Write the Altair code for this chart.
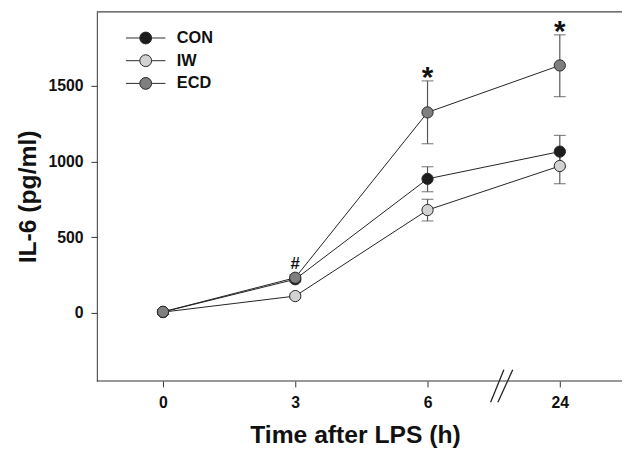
import altair as alt
import pandas as pd

groups = ["CON", "IW", "ECD"]
time_labels = ["0", "3", "6", "24"]
time_index = [0, 1, 2, 3]

con_mean = [6, 222, 885, 1065]
con_lo = [-8, 205, 800, 960]
con_hi = [20, 240, 965, 1172]
iw_mean = [5, 111, 679, 970]
iw_lo = [-8, 98, 607, 853]
iw_hi = [18, 124, 750, 1060]
ecd_mean = [7, 232, 1324, 1634]
ecd_lo = [-8, 212, 1117, 1428]
ecd_hi = [22, 252, 1532, 1836]

fills = ["#1c1c1c", "#d2d2d2", "#7f7f7f"]

hash_idx = [1]
hash_y = [252]
star_idx = [2, 3]
star_y = [1532, 1836]

rows = []
for g, m, lo, hi in [("CON", con_mean, con_lo, con_hi),
                     ("IW", iw_mean, iw_lo, iw_hi),
                     ("ECD", ecd_mean, ecd_lo, ecd_hi)]:
    for i in range(4):
        rows.append({"group": g, "t": time_index[i], "mean": m[i], "lo": lo[i], "hi": hi[i]})
df = pd.DataFrame(rows)

W, H = 523, 374
FONT = "Arial"

xscale = alt.Scale(domain=[-0.5, 3.403], nice=False, zero=False)
yscale = alt.Scale(domain=[-450, 1988], nice=False, zero=False)

label_expr = "[" + ",".join("'" + s + "'" for s in time_labels) + "][datum.value]"

x_enc = alt.X("t:Q", scale=xscale,
              axis=alt.Axis(values=time_index, labelExpr=label_expr, title="Time after LPS (h)",
                            domain=False, grid=False, tickSize=6, tickColor="#333",
                            labelFont=FONT, labelFontSize=16, labelFontWeight="bold", labelColor="#111",
                            labelPadding=8, titleFont=FONT, titleFontSize=25, titleFontWeight="bold",
                            titleColor="#111", titlePadding=12))
y_enc = alt.Y("mean:Q", scale=yscale,
              axis=alt.Axis(values=[0, 500, 1000, 1500], format="d", title="IL-6 (pg/ml)", grid=False,
                            domainColor="#333", tickColor="#333", tickSize=6,
                            labelFont=FONT, labelFontSize=16, labelFontWeight="bold", labelColor="#111",
                            labelPadding=8, titleFont=FONT, titleFontSize=25, titleFontWeight="bold",
                            titleColor="#111", titlePadding=8))

base = alt.Chart(df)

lines = base.mark_line(color="#222", strokeWidth=1).encode(
    x=x_enc, y=y_enc, detail="group:N")

err = base.mark_rule(color="#555", strokeWidth=1.2).encode(
    x="t:Q", y="lo:Q", y2="hi:Q")
cap_lo = base.mark_tick(orient="horizontal", color="#555", size=12, thickness=1.2).encode(
    x="t:Q", y="lo:Q")
cap_hi = base.mark_tick(orient="horizontal", color="#555", size=12, thickness=1.2).encode(
    x="t:Q", y="hi:Q")

sym = "M-2,0H-0.6M0.6,0H2M0.6,0A0.6,0.6,0,1,1,-0.6,0A0.6,0.6,0,1,1,0.6,0Z"
points = base.mark_point(filled=True, size=130, stroke="#2a2a2a", strokeWidth=1, opacity=1).encode(
    x="t:Q", y="mean:Q",
    fill=alt.Fill("group:N", scale=alt.Scale(domain=groups, range=fills),
                  legend=alt.Legend(title=None, orient="none", legendX=39, legendY=16,
                                    symbolType=sym, symbolSize=400, symbolStrokeColor="#2a2a2a",
                                    symbolStrokeWidth=1, symbolOpacity=1,
                                    labelFont=FONT, labelFontSize=16.5, labelFontWeight="bold",
                                    labelColor="#111", labelOffset=21, rowPadding=4, padding=0)))

hash_df = pd.DataFrame({"t": hash_idx, "y": hash_y, "s": ["#"] * len(hash_idx)})
star_df = pd.DataFrame({"t": star_idx, "y": star_y, "s": ["*"] * len(star_idx)})
hash_txt = alt.Chart(hash_df).mark_text(font=FONT, fontSize=17, fontWeight="bold", color="#111",
                                         baseline="alphabetic", dy=-6).encode(
    x="t:Q", y="y:Q", text="s:N")
star_txt = alt.Chart(star_df).mark_text(font=FONT, fontSize=30, fontWeight="bold", color="#111",
                                         baseline="alphabetic", dy=6).encode(
    x="t:Q", y="y:Q", text="s:N")

brk_df = pd.DataFrame({"t": [2.477, 2.532], "t2": [2.577, 2.644], "y": [-590, -590], "y2": [-376, -376]})
brk = alt.Chart(brk_df).mark_rule(color="#222", strokeWidth=1.3).encode(
    x="t:Q", x2="t2", y="y:Q", y2="y2")

frame_df = pd.DataFrame({"a": [0]})
top_rule = alt.Chart(frame_df).mark_rule(color="#444", strokeWidth=1.2).encode(
    x=alt.value(0), x2=alt.value(W + 9), y=alt.value(0))
bot_rule = alt.Chart(frame_df).mark_rule(color="#333", strokeWidth=1.2).encode(
    x=alt.value(0), x2=alt.value(W + 9), y=alt.value(H))

chart = alt.layer(lines, err, cap_lo, cap_hi, points, hash_txt, star_txt, brk, top_rule, bot_rule).properties(
    width=W, height=H,
    autosize=alt.AutoSizeParams(type="none"),
    padding={"left": 90, "top": 1, "right": 9, "bottom": 67},
).configure_view(stroke=None)

chart.save("out.html", embed_options={"renderer": "svg", "actions": False})
